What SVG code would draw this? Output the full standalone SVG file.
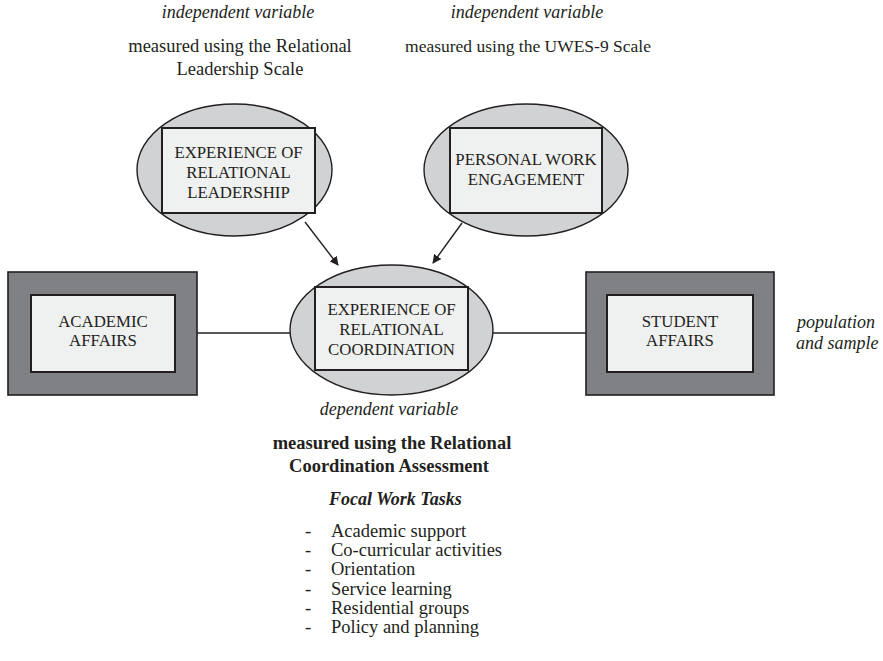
<svg xmlns="http://www.w3.org/2000/svg" width="883" height="661" viewBox="0 0 883 661">
<defs>
<style>
.ell{fill:#d1d2d4;stroke:#231f20;stroke-width:1.4}
.inner{fill:#eff0f0;stroke:#231f20;stroke-width:2}
.outer{fill:#808184;stroke:#231f20;stroke-width:1.6}
.t{font-family:"Liberation Serif","Times New Roman",serif;fill:#231f20}
.box{font-size:16.8px;text-anchor:middle}
.ann{font-size:18.5px;text-anchor:middle}
.sm{font-size:17.5px}
.b{font-weight:bold}
.it{font-style:italic;font-size:18px}
.li{font-size:18.5px}
.conn{stroke:#231f20;stroke-width:1.4;fill:none}
</style>
<marker id="arr" viewBox="0 0 10 10" refX="9" refY="5" markerWidth="9" markerHeight="9" markerUnits="userSpaceOnUse" orient="auto">
<path d="M0,0 L10,5 L0,10 z" fill="#231f20"/>
</marker>
</defs>
<rect width="883" height="661" fill="#ffffff"/>

<g id="connectors">
<line class="conn" x1="305" y1="222" x2="338" y2="265" marker-end="url(#arr)"/>
<line class="conn" x1="462" y1="223" x2="433" y2="263" marker-end="url(#arr)"/>
<line class="conn" x1="197" y1="333" x2="290" y2="333"/>
<line class="conn" x1="493" y1="333" x2="586" y2="333"/>
</g>

<g id="annot-left">
<text class="t ann it" x="238" y="18">independent variable</text>
<text class="t ann" x="240" y="52">measured using the Relational</text>
<text class="t ann" x="240" y="75">Leadership Scale</text>
</g>
<g id="annot-right">
<text class="t ann it" x="527" y="18">independent variable</text>
<text class="t ann sm" x="528" y="52">measured using the UWES-9 Scale</text>
</g>

<g id="node-leadership">
<ellipse class="ell" cx="234.5" cy="170" rx="97.5" ry="66"/>
<rect class="inner" x="162" y="128" width="153" height="85"/>
<text class="t box" x="238.5" y="158">EXPERIENCE OF</text>
<text class="t box" x="238.5" y="178">RELATIONAL</text>
<text class="t box" x="238.5" y="198">LEADERSHIP</text>
</g>

<g id="node-engagement">
<ellipse class="ell" cx="526" cy="170" rx="102" ry="66"/>
<rect class="inner" x="450" y="128" width="152" height="85"/>
<text class="t box" x="526" y="165">PERSONAL WORK</text>
<text class="t box" x="526" y="185">ENGAGEMENT</text>
</g>

<g id="node-coordination">
<ellipse class="ell" cx="391.5" cy="330" rx="101.5" ry="65"/>
<rect class="inner" x="315" y="287" width="153" height="83"/>
<text class="t box" x="391.5" y="315">EXPERIENCE OF</text>
<text class="t box" x="391.5" y="335">RELATIONAL</text>
<text class="t box" x="391.5" y="355">COORDINATION</text>
</g>

<g id="node-academic">
<rect class="outer" x="8" y="272" width="189" height="123"/>
<rect class="inner" x="31" y="295" width="144" height="77"/>
<text class="t box" x="103" y="327">ACADEMIC</text>
<text class="t box" x="103" y="346">AFFAIRS</text>
</g>

<g id="node-student">
<rect class="outer" x="586" y="272" width="188" height="123"/>
<rect class="inner" x="607" y="295" width="146" height="77"/>
<text class="t box" x="680" y="327">STUDENT</text>
<text class="t box" x="680" y="346">AFFAIRS</text>
</g>

<g id="annot-population">
<text class="t it" x="797" y="328">population</text>
<text class="t it" x="796" y="349">and sample</text>
</g>

<g id="annot-bottom">
<text class="t ann it" x="389" y="415">dependent variable</text>
<text class="t ann b" x="392" y="449">measured using the Relational</text>
<text class="t ann b" x="389" y="472">Coordination Assessment</text>
<text class="t it b" x="329" y="505">Focal Work Tasks</text>
<g>
<text class="t li" x="305" y="537">-</text><text class="t li" x="331" y="537">Academic support</text>
<text class="t li" x="305" y="556">-</text><text class="t li" x="331" y="556">Co-curricular activities</text>
<text class="t li" x="305" y="575">-</text><text class="t li" x="331" y="575">Orientation</text>
<text class="t li" x="305" y="595">-</text><text class="t li" x="331" y="595">Service learning</text>
<text class="t li" x="305" y="614">-</text><text class="t li" x="331" y="614">Residential groups</text>
<text class="t li" x="305" y="633">-</text><text class="t li" x="331" y="633">Policy and planning</text>
</g>
</g>
</svg>
